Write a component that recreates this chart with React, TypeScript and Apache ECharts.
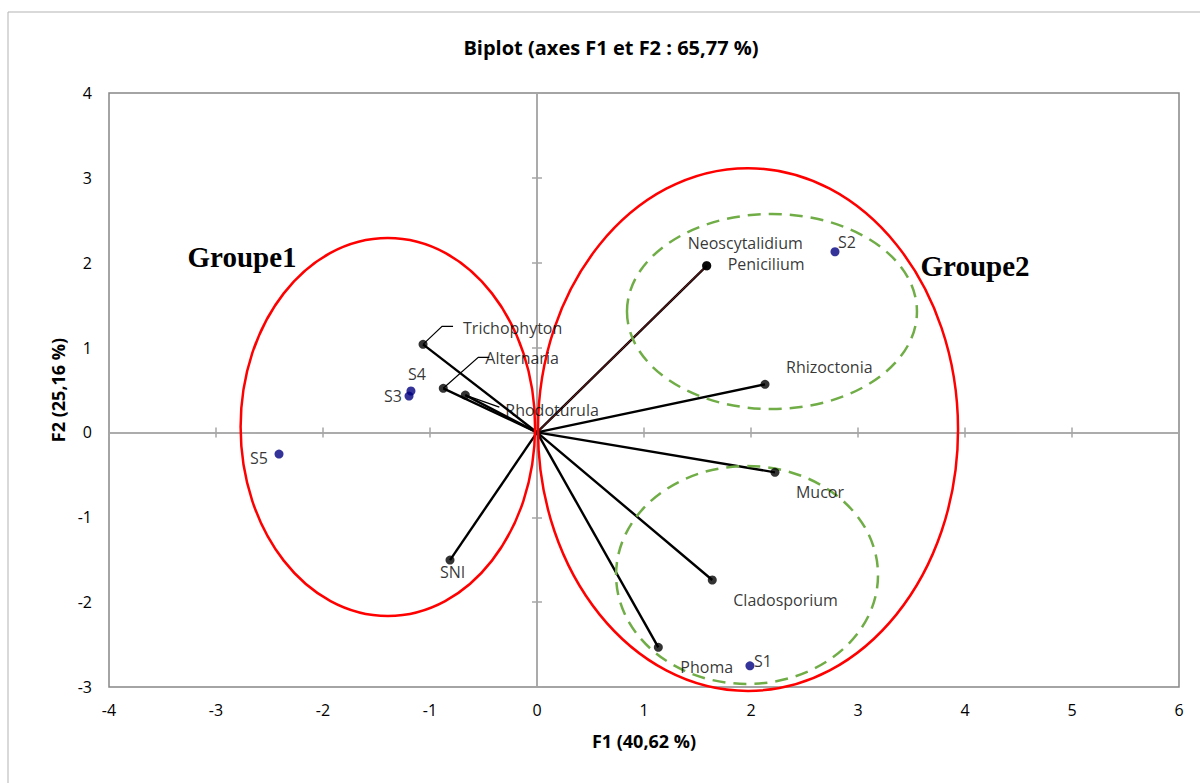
import React, { useEffect, useRef } from 'react';
import * as echarts from 'echarts';

// ---- Data ----
const variableNames = ['Trichophyton', 'Alternaria', 'Rhodoturula', 'Neoscytalidium', 'Penicilium', 'Rhizoctonia', 'Mucor', 'Cladosporium', 'Phoma', 'SNI'];
const variableF1 = [-1.065, -0.876, -0.67, 1.586, 1.586, 2.131, 2.224, 1.638, 1.134, -0.813];
const variableF2 = [1.038, 0.52, 0.44, 1.964, 1.964, 0.567, -0.47, -1.739, -2.532, -1.504];

const siteNames = ['S1', 'S2', 'S3', 'S4', 'S5'];
const siteF1 = [1.99, 2.785, -1.196, -1.178, -2.411];
const siteF2 = [-2.75, 2.129, 0.429, 0.488, -0.255];

const ellipseNames = ['Groupe1', 'Groupe2', 'Sous-groupe haut', 'Sous-groupe bas'];
const ellipseCx = [-1.394, 1.972, 2.196, 1.963];
const ellipseCy = [0.064, 0.034, 1.425, -1.68];
const ellipseRx = [1.376, 1.963, 1.355, 1.224];
const ellipseRy = [2.227, 3.08, 1.149, 1.284];

const groupLabels = ['Groupe1', 'Groupe2'];

const titleText = 'Biplot (axes F1 et F2 : 65,77 %)';
const xName = 'F1 (40,62 %)';
const yName = 'F2 (25,16 %)';
const X_MIN = -4, X_MAX = 6, Y_MIN = -3, Y_MAX = 4, STEP = 1;

// ---- Styles (pixel offsets for labels / leader lines) ----
const FONT = '"Open Sans", "Noto Sans", sans-serif';
const labelOffsets: Record<string, [number, number]> = {
  Trichophyton: [40, -16],
  Alternaria: [42, -30],
  Rhodoturula: [40, 15],
  Neoscytalidium: [-19, -23],
  Penicilium: [21, -2],
  Rhizoctonia: [21, -17],
  Mucor: [21, 20],
  Cladosporium: [21, 20],
  Phoma: [22, 20],
  SNI: [-10, 12],
  S1: [4, -5],
  S2: [3, -10],
  S3: [-25, 0],
  S4: [-3, -17],
  S5: [-29, 4],
};
const leaders: Record<string, [number, number][]> = {
  Trichophyton: [[0, 0], [19, -18], [30, -18]],
  Alternaria: [[0, 0], [35, -31], [46, -31]],
  Rhodoturula: [[0, 0], [34, 12]],
};
const ellipseStyles = [
  { stroke: '#FF0000', lineWidth: 2.5, lineDash: null as any },
  { stroke: '#FF0000', lineWidth: 2.5, lineDash: null as any },
  { stroke: '#70AD47', lineWidth: 2.5, lineDash: [13, 8] },
  { stroke: '#70AD47', lineWidth: 2.5, lineDash: [13, 8] },
];
const groupLabelPos: [number, number][] = [[242, 257], [975, 266]];

export default function App() {
  const ref = useRef<HTMLDivElement>(null);

  useEffect(() => {
    if (!ref.current) return;
    const chart = echarts.init(ref.current, null, { renderer: 'svg' });

    const varData = variableNames.map((n, i) => [variableF1[i], variableF2[i]]);
    const ellData = ellipseNames.map((n, i) => [ellipseCx[i], ellipseCy[i], ellipseRx[i], ellipseRy[i]]);

    const mkLabel = (name: string) => ({
      show: true,
      position: 'inside',
      align: 'left',
      verticalAlign: 'middle',
      offset: labelOffsets[name] || [6, 0],
      formatter: '{b}',
      color: '#000',
      fontSize: 16,
      fontFamily: FONT,
    });

    const baseX = { type: 'value', min: X_MIN, max: X_MAX, interval: STEP, splitLine: { show: false } };
    const baseY = { type: 'value', min: Y_MIN, max: Y_MAX, interval: STEP, splitLine: { show: false } };
    const zeroLine = { show: true, onZero: true, lineStyle: { color: '#a6a6a6', width: 1.5 } };
    const tick = (inside: boolean) => ({ show: true, inside, length: 5, lineStyle: { color: '#a6a6a6', width: 1.5 } });

    chart.setOption({
      animation: false,
      backgroundColor: '#fff',
      grid: { left: 109, top: 93, width: 1070, height: 594, show: true, borderColor: '#868686', borderWidth: 1.5, backgroundColor: 'transparent' },
      xAxis: [
        {
          ...baseX,
          position: 'bottom',
          axisLine: { show: false, onZero: false },
          axisTick: { show: false },
          axisLabel: { margin: 15, color: '#000', fontSize: 16, fontFamily: FONT },
          name: xName,
          nameLocation: 'middle',
          nameGap: 45,
          nameTextStyle: { fontWeight: 'bold', fontSize: 18, color: '#000', fontFamily: FONT },
        },
        { ...baseX, position: 'bottom', axisLine: zeroLine, axisTick: tick(true), axisLabel: { show: false } },
        { ...baseX, position: 'bottom', axisLine: zeroLine, axisTick: tick(false), axisLabel: { show: false } },
      ],
      yAxis: [
        {
          ...baseY,
          position: 'left',
          axisLine: { show: false, onZero: false },
          axisTick: { show: false },
          axisLabel: { margin: 17, color: '#000', fontSize: 16, fontFamily: FONT },
          name: yName,
          nameLocation: 'middle',
          nameGap: 40,
          nameTextStyle: { fontWeight: 'bold', fontSize: 18, color: '#000', fontFamily: FONT },
        },
        { ...baseY, position: 'left', axisLine: zeroLine, axisTick: tick(true), axisLabel: { show: false } },
        { ...baseY, position: 'left', axisLine: zeroLine, axisTick: tick(false), axisLabel: { show: false } },
      ],
      series: [
        {
          type: 'custom',
          name: 'vecteurs',
          z: 3,
          clip: false,
          data: varData,
          encode: { x: 0, y: 1 },
          renderItem: (params: any, api: any) => {
            const name = variableNames[params.dataIndex];
            const o = api.coord([0, 0]);
            const p = api.coord([api.value(0), api.value(1)]);
            const isPen = name === 'Penicilium';
            const children: any[] = [
              {
                type: 'line',
                shape: { x1: o[0], y1: o[1], x2: p[0], y2: p[1] },
                style: { stroke: isPen ? '#8a1c1c' : '#000', lineWidth: isPen ? 1 : 2.4 },
              },
            ];
            const ld = leaders[name];
            if (ld) {
              children.push({
                type: 'polyline',
                shape: { points: ld.map(([dx, dy]) => [p[0] + dx, p[1] + dy]) },
                style: { stroke: '#000', lineWidth: 1.2, fill: null },
              });
            }
            return { type: 'group', children };
          },
        },
        {
          type: 'custom',
          name: 'ellipses',
          z: 4,
          clip: false,
          data: ellData,
          encode: { x: 0, y: 1 },
          renderItem: (params: any, api: any) => {
            const c = api.coord([api.value(0), api.value(1)]);
            const s = api.size([api.value(2), api.value(3)]);
            const st = ellipseStyles[params.dataIndex];
            return {
              type: 'ellipse',
              shape: { cx: c[0], cy: c[1], rx: s[0], ry: s[1] },
              style: { fill: null, stroke: st.stroke, lineWidth: st.lineWidth, lineDash: st.lineDash },
            };
          },
        },
        {
          type: 'scatter',
          name: 'Variables',
          z: 5,
          symbol: 'circle',
          symbolSize: 9,
          itemStyle: { color: '#000' },
          data: variableNames.map((n, i) => ({ name: n, value: [variableF1[i], variableF2[i]], label: mkLabel(n) })),
        },
        {
          type: 'scatter',
          name: 'Sites',
          z: 5,
          symbol: 'circle',
          symbolSize: 9,
          itemStyle: { color: '#000080' },
          data: siteNames.map((n, i) => ({ name: n, value: [siteF1[i], siteF2[i]], label: mkLabel(n) })),
        },
      ],
      graphic: [
        {
          type: 'rect',
          shape: { x: 8, y: 12, width: 1200, height: 780 },
          style: { fill: null, stroke: '#b3b3b3', lineWidth: 1 },
          silent: true,
          z: -10,
        },
        {
          type: 'text',
          x: 611,
          y: 47,
          style: { text: titleText, font: `bold 20px ${FONT}`, fill: '#000', textAlign: 'center', textVerticalAlign: 'middle' },
        },
        ...groupLabels.map((g, i) => ({
          type: 'text',
          x: groupLabelPos[i][0],
          y: groupLabelPos[i][1],
          style: { text: g, font: 'bold 29px "Liberation Serif", "Times New Roman", serif', fill: '#000', textAlign: 'center', textVerticalAlign: 'middle' },
        })),
      ],
    });

    return () => chart.dispose();
  }, []);

  return <div ref={ref} style={{ position: 'fixed', left: 0, top: 0, width: 1200, height: 783, background: '#fff' }} />;
}
